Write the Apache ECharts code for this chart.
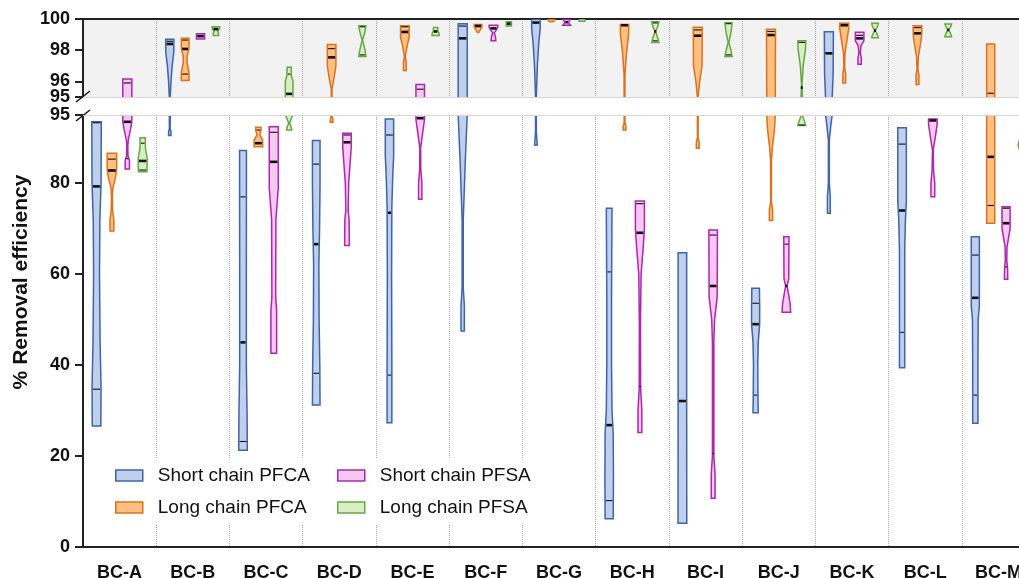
<!DOCTYPE html>
<html>
<head>
<meta charset="utf-8">
<script src="https://cdn.jsdelivr.net/npm/echarts@6/dist/echarts.min.js"></script>
<style>
  html, body { margin: 0; padding: 0; background: #fff; }
  #main { width: 1019px; height: 578px; }
</style>
</head>
<body>
<div id="main"></div>
<script>
// sites on the x axis
const categories = ['BC-A', 'BC-B', 'BC-C', 'BC-D', 'BC-E', 'BC-F', 'BC-G', 'BC-H', 'BC-I', 'BC-J', 'BC-K', 'BC-L', 'BC-M'];
const seriesNames = ['Short chain PFCA', 'Long chain PFCA', 'Short chain PFSA', 'Long chain PFSA'];

// tick labels of the two panels (95 of the upper panel sits on its own axis so it does not hide 96)
const topTicks = [96, 98, 100];
const topBreakTick = [95];
const bottomTicks = [0, 20, 40, 60, 80, 95];

// violin outlines, one per site: [removal %, relative width] from min to max
const shortPfcaShape = [
  [[26.6, 0.9], [35, 0.95], [45, 0.75], [60, 0.62], [72, 0.7], [80, 0.95], [93.5, 1]],
  [[90.5, 0.25], [91.3, 0.25], [92, 0.08], [95, 0.1], [96, 0.25], [97, 0.5], [97.9, 0.85], [98.7, 0.85]],
  [[21.3, 0.9], [30, 0.85], [40, 0.7], [60, 0.7], [80, 0.72], [87.2, 0.72]],
  [[31.2, 0.8], [40, 0.75], [50, 0.6], [62, 0.55], [70, 0.7], [80, 0.8], [89.4, 0.8]],
  [[27.3, 0.5], [40, 0.5], [60, 0.45], [75, 0.5], [82, 0.7], [86, 0.88], [94.1, 0.88]],
  [[47.5, 0.35], [53, 0.35], [57, 0.12], [72, 0.12], [85, 0.55], [95, 0.95], [99.7, 0.95]],
  [[88.4, 0.3], [89.5, 0.2], [91.5, 0.08], [95, 0.08], [97, 0.3], [98.5, 0.6], [99.4, 0.9], [99.98, 0.9]],
  [[6.2, 0.85], [15, 0.9], [25, 0.85], [30, 0.6], [40, 0.5], [55, 0.5], [74.5, 0.6]],
  [[5.2, 0.92], [30, 0.9], [64.7, 0.9]],
  [[29.5, 0.55], [33, 0.5], [40, 0.45], [45, 0.55], [49, 0.85], [53, 0.85], [56.9, 0.8]],
  [[73.4, 0.3], [77, 0.3], [80, 0.1], [89.5, 0.1], [93, 0.45], [95, 0.7], [96.5, 0.9], [99.19, 0.95]],
  [[39.4, 0.55], [50, 0.55], [65, 0.55], [72, 0.7], [76, 0.9], [85, 0.9], [92.2, 0.9]],
  [[27.2, 0.55], [40, 0.55], [50, 0.6], [53, 0.85], [60, 0.85], [68.2, 0.85]]
];
// quartile lines per site: [q1, median, q3]
const shortPfcaLines = [
  [34.7, 79.3, 93.3], [null, 98.4, 98.57], [23.2, 45, 77], [38.2, 66.6, 84.2], [37.8, 73.5, 90.6],
  [null, 98.76, 99.55], [null, 99.77, null], [10.2, 26.8, 60.5], [null, 32.1, null], [33.4, 49.0, 53.6],
  [null, 97.8, null], [47.2, 74.0, 88.6], [33.4, 54.8, 64.2]
];

const longPfcaShape = [
  [[69.5, 0.4], [72, 0.4], [74, 0.15], [77, 0.1], [79, 0.2], [81, 0.7], [83, 1], [86.6, 1]],
  [[96.05, 0.8], [96.6, 0.8], [97.2, 0.4], [97.6, 0.4], [98.1, 0.8], [98.76, 0.8]],
  [[88.0, 0.9], [89.5, 0.9], [90.5, 0.35], [91.0, 0.35], [91.5, 0.55], [92.3, 0.55]],
  [[93.4, 0.3], [94.2, 0.25], [94.8, 0.08], [95.5, 0.08], [96.2, 0.5], [97, 0.9], [98.37, 0.9]],
  [[96.7, 0.3], [97.2, 0.3], [97.6, 0.1], [98.3, 0.5], [98.8, 0.9], [99.57, 0.9]],
  [[99.14, 0.15], [99.3, 0.45], [99.5, 0.8], [99.65, 0.8]],
  [[99.83, 0.3], [99.9, 0.7], [99.98, 0.8]],
  [[91.7, 0.3], [92.5, 0.3], [93.3, 0.08], [96.5, 0.1], [97.9, 0.45], [99, 0.85], [99.65, 0.9]],
  [[87.7, 0.3], [89, 0.3], [90, 0.08], [95, 0.08], [96, 0.4], [97, 0.9], [99.47, 0.95]],
  [[71.8, 0.35], [74, 0.35], [76, 0.08], [85, 0.1], [88, 0.3], [92, 0.75], [95, 0.9], [99.34, 0.95]],
  [[95.9, 0.3], [96.5, 0.3], [96.9, 0.08], [97.8, 0.15], [98.7, 0.6], [99.4, 0.95], [99.72, 0.95]],
  [[95.8, 0.3], [96.4, 0.3], [96.8, 0.1], [97.6, 0.2], [98.5, 0.7], [99.0, 0.9], [99.57, 0.9]],
  [[71.2, 0.85], [98.4, 0.85]]
];
const longPfcaLines = [
  [null, 82.8, 85.3], [96.47, 98.08, 98.65], [null, 88.8, 91.7], [null, 97.54, 98.1], [null, 99.17, 99.5],
  [null, 99.55, null], [null, null, null], [null, 99.6, null], [null, 98.93, 99.3], [null, 98.97, 99.2],
  [null, 99.6, null], [null, 99.08, 99.45], [75.1, 85.8, 95.24]
];

const shortPfsaShape = [
  [[83.1, 0.45], [85, 0.45], [86, 0.15], [88, 0.1], [89.5, 0.2], [92, 0.7], [93.5, 0.95], [96.15, 0.95]],
  [[98.72, 0.85], [99.06, 0.85]],
  [[42.6, 0.6], [52, 0.6], [55, 0.4], [72, 0.45], [79, 0.95], [92.4, 0.95]],
  [[66.3, 0.5], [72, 0.45], [74, 0.25], [80, 0.35], [85, 0.7], [88, 0.9], [91.0, 0.9]],
  [[76.5, 0.35], [80, 0.35], [83, 0.12], [87.7, 0.08], [91, 0.5], [94, 0.9], [95.8, 0.9]],
  [[98.6, 0.5], [98.9, 0.4], [99.1, 0.15], [99.25, 0.5], [99.45, 0.9], [99.6, 0.9]],
  [[99.6, 0.8], [99.75, 0.4], [99.85, 0.5], [99.98, 0.8]],
  [[25.2, 0.4], [30, 0.4], [35, 0.15], [50, 0.12], [60, 0.25], [66, 0.7], [70, 0.95], [76.1, 0.95]],
  [[10.7, 0.4], [16, 0.4], [20, 0.15], [45, 0.15], [50, 0.3], [55, 0.85], [69.7, 0.9]],
  [[51.6, 0.9], [53.5, 0.8], [56, 0.4], [57.4, 0.15], [59, 0.5], [68.2, 0.55]],
  [[97.1, 0.35], [97.5, 0.35], [97.8, 0.15], [98.3, 0.3], [98.6, 0.9], [99.15, 0.9]],
  [[77.0, 0.4], [80, 0.4], [83, 0.15], [87.3, 0.08], [90, 0.5], [93, 0.9], [94.1, 0.9]],
  [[58.9, 0.35], [61.6, 0.3], [63, 0.15], [66, 0.2], [70, 0.85], [74.8, 0.85]]
];
const shortPfsaLines = [
  [85.4, 93.5, 95.9], [null, 98.9, null], [null, 84.7, 91.2], [null, 89.0, 90.6], [null, 94.3, 95.5],
  [null, 99.4, null], [null, 99.8, null], [35.3, 69.1, 75.5], [20.6, 57.4, 68.6], [null, 57.4, 66.6],
  [null, 98.76, 98.95], [null, 93.8, null], [61.6, 71.2, 74.5]
];

const longPfsaShape = [
  [[82.5, 0.9], [85.5, 0.95], [87.5, 0.6], [88.5, 0.55], [90.0, 0.55]],
  [[98.95, 0.55], [99.1, 0.55], [99.2, 0.35], [99.4, 0.8], [99.5, 0.8]],
  [[91.7, 0.55], [92.4, 0.4], [93.2, 0.1], [94.2, 0.45], [95, 0.8], [96, 0.8], [96.4, 0.45], [96.9, 0.45]],
  [[97.6, 0.75], [98.0, 0.55], [98.65, 0.05], [99.2, 0.55], [99.57, 0.75]],
  [[98.95, 0.75], [99.1, 0.7], [99.25, 0.45], [99.45, 0.45]],
  [[99.55, 0.55], [99.83, 0.55]],
  [[99.85, 0.6], [100, 0.6]],
  [[98.5, 0.75], [98.8, 0.5], [99.2, 0.05], [99.5, 0.5], [99.83, 0.75]],
  [[97.6, 0.75], [98.0, 0.5], [98.5, 0.08], [99.2, 0.55], [99.76, 0.75]],
  [[92.7, 0.85], [93.5, 0.6], [94.5, 0.25], [95, 0.15], [95.8, 0.05], [97, 0.3], [98, 0.75], [98.6, 0.85]],
  [[98.8, 0.7], [99.0, 0.5], [99.26, 0.05], [99.5, 0.5], [99.72, 0.7]],
  [[98.87, 0.7], [99.1, 0.45], [99.3, 0.1], [99.5, 0.5], [99.68, 0.7]],
  [[87.5, 0.5], [88.5, 0.7], [90, 0.3]]
];
const longPfsaLines = [
  [82.9, 84.9, 88.8], [null, 99.35, null], [null, 95.2, 96.47], [97.7, null, 99.5], [null, 99.2, null],
  [null, 99.7, null], [null, null, null], [98.6, 99.2, 99.75], [97.7, null, 99.7], [92.8, 95.6, 98.5],
  [null, 99.26, null], [null, 99.3, null], [null, 88.8, null]
];

const shapes = [shortPfcaShape, longPfcaShape, shortPfsaShape, longPfsaShape];
const quartiles = [shortPfcaLines, longPfcaLines, shortPfsaLines, longPfsaLines];
const fills = ['#bfcfec', '#fdbf82', '#f5c8f2', '#d8efc6'];
const strokes = ['#3d65a8', '#d9731e', '#ae27ad', '#67a744'];
const slotOffset = [-0.315, -0.105, 0.105, 0.315];

const font = "'Liberation Sans', Arial, sans-serif";
const gridLeft = 83;
const gridWidth = 952; // plot runs past the right edge of the picture, as in the original

// width of a violin at value v (linear between the outline points)
function widthAt(knots, v) {
  for (var k = 1; k < knots.length; k++) {
    if (v <= knots[k][0]) {
      var a = knots[k - 1], b = knots[k];
      return a[1] + (b[1] - a[1]) * (v - a[0]) / (b[0] - a[0]);
    }
  }
  return knots[knots.length - 1][1];
}

function makeRender(s) {
  return function (params, api) {
    var i = api.value(0);
    var knots = shapes[s][i];
    if (!knots) return;
    var band = api.size([1, 0])[0];
    var cx = api.coord([i, 0])[0] + slotOffset[s] * band;
    var half = band * 0.065;
    var left = [], right = [];
    knots.forEach(function (k) {
      var y = api.coord([i, k[0]])[1];
      left.push([cx - k[1] * half, y]);
      right.unshift([cx + k[1] * half, y]);
    });
    var children = [{
      type: 'polygon',
      shape: { points: left.concat(right) },
      style: { fill: fills[s], stroke: strokes[s], lineWidth: 1.5 }
    }];
    quartiles[s][i].forEach(function (v, j) {
      if (v == null) return;
      var w = Math.max(widthAt(knots, v) * half - 0.8, 1);
      var y = api.coord([i, v])[1];
      children.push({
        type: 'line',
        shape: { x1: cx - w, y1: y, x2: cx + w, y2: y },
        style: { stroke: '#111', lineWidth: j === 1 ? 2.6 : 1.1 }
      });
    });
    return { type: 'group', children: children };
  };
}

var chart = echarts.init(document.getElementById('main'));

var series = [];
[0, 1].forEach(function (g) {
  seriesNames.forEach(function (name, s) {
    series.push({
      type: 'custom',
      name: name,
      xAxisIndex: g,
      yAxisIndex: g,
      clip: true,
      silent: true,
      itemStyle: { color: fills[s], borderColor: strokes[s], borderWidth: 1.5 },
      encode: { x: 0, y: 1 },
      data: categories.map(function (c, i) { return [i, quartiles[s][i][1] || 99]; }),
      renderItem: makeRender(s),
      markLine: s === 0 ? {
        silent: true,
        symbol: 'none',
        label: { show: false },
        lineStyle: { color: '#d6d6d6', type: 'solid', width: 1 },
        data: [{ yAxis: 95 }]
      } : undefined
    });
  });
});

function legendItems(names) {
  return names.map(function (n) {
    var s = seriesNames.indexOf(n);
    return { name: n, icon: 'rect', itemStyle: { color: fills[s], borderColor: strokes[s], borderWidth: 1.5 } };
  });
}

var yLabel = { margin: 13, color: '#111', fontSize: 18, fontWeight: 'bold', fontFamily: font, showMinLabel: true, showMaxLabel: true, hideOverlap: false };
var yTick = { show: true, length: 8, lineStyle: { color: '#222', width: 2 } };

var option = {
  animation: false,
  backgroundColor: '#fff',
  grid: [
    { left: gridLeft, width: gridWidth, top: 19, height: 78, outerBoundsMode: 'none', containLabel: false, show: true, backgroundColor: '#f2f2f2', borderWidth: 0 },
    { left: gridLeft, width: gridWidth, top: 115, height: 432, outerBoundsMode: 'none', containLabel: false }
  ],
  xAxis: [
    {
      type: 'category', gridIndex: 0, data: categories, position: 'top',
      axisLine: { lineStyle: { color: '#222', width: 2 } },
      axisTick: { show: false }, axisLabel: { show: false },
      splitLine: { show: true, interval: 0, lineStyle: { color: '#a8a8a8', type: 'dotted', width: 1 } }
    },
    {
      type: 'category', gridIndex: 1, data: categories,
      axisLine: { lineStyle: { color: '#222', width: 2 } },
      axisTick: { alignWithLabel: true, length: 10, lineStyle: { color: '#222', width: 2 } },
      axisLabel: { interval: 0, margin: 17, color: '#111', fontSize: 18, fontWeight: 'bold', fontFamily: font },
      splitLine: { show: true, interval: 0, lineStyle: { color: '#a8a8a8', type: 'dotted', width: 1 } }
    }
  ],
  yAxis: [
    {
      type: 'value', gridIndex: 0, min: 95, max: 100, position: 'left',
      axisLine: { show: true, lineStyle: { color: '#222', width: 2 } },
      axisTick: Object.assign({ customValues: topTicks }, yTick),
      axisLabel: Object.assign({ customValues: topTicks }, yLabel),
      splitLine: { show: false }
    },
    {
      type: 'value', gridIndex: 1, min: 0, max: 95, position: 'left',
      axisLine: { show: true, lineStyle: { color: '#222', width: 2 } },
      axisTick: Object.assign({ customValues: bottomTicks }, yTick),
      axisLabel: Object.assign({ customValues: bottomTicks }, yLabel),
      splitLine: { show: false }
    },
    {
      type: 'value', gridIndex: 0, min: 95, max: 100, position: 'left', offset: 0,
      axisLine: { show: false },
      axisTick: Object.assign({ customValues: topBreakTick }, yTick),
      axisLabel: Object.assign({ customValues: topBreakTick }, yLabel),
      splitLine: { show: false }
    }
  ],
  legend: [
    {
      orient: 'vertical', left: 105, top: 459, padding: [7, 10], itemGap: 13,
      itemWidth: 27, itemHeight: 11, backgroundColor: '#fff',
      textStyle: { fontSize: 19, color: '#111', fontFamily: font, padding: [0, 0, 0, 10] },
      data: legendItems(['Short chain PFCA', 'Long chain PFCA'])
    },
    {
      orient: 'vertical', left: 327, top: 459, padding: [7, 10], itemGap: 13,
      itemWidth: 27, itemHeight: 11, backgroundColor: '#fff',
      textStyle: { fontSize: 19, color: '#111', fontFamily: font, padding: [0, 0, 0, 10] },
      data: legendItems(['Short chain PFSA', 'Long chain PFSA'])
    }
  ],
  graphic: [
    {
      type: 'text', x: 21, y: 282, rotation: Math.PI / 2,
      style: { text: '% Removal efficiency', fill: '#111', font: 'bold 21px ' + font, textAlign: 'center', textVerticalAlign: 'middle' }
    }
  ],
  series: series
};

chart.setOption(option);

// axis break marks at the two ends of the gap
var yTop = chart.convertToPixel({ yAxisIndex: 0 }, 95);
var yBottom = chart.convertToPixel({ yAxisIndex: 1 }, 95);
chart.setOption({
  graphic: [
    option.graphic[0],
    { type: 'line', shape: { x1: gridLeft - 7, y1: yTop + 5, x2: gridLeft + 7, y2: yTop - 6 }, style: { stroke: '#111', lineWidth: 1.5 } },
    { type: 'line', shape: { x1: gridLeft - 7, y1: yBottom + 6, x2: gridLeft + 7, y2: yBottom - 5 }, style: { stroke: '#111', lineWidth: 1.5 } }
  ]
});
</script>
</body>
</html>
